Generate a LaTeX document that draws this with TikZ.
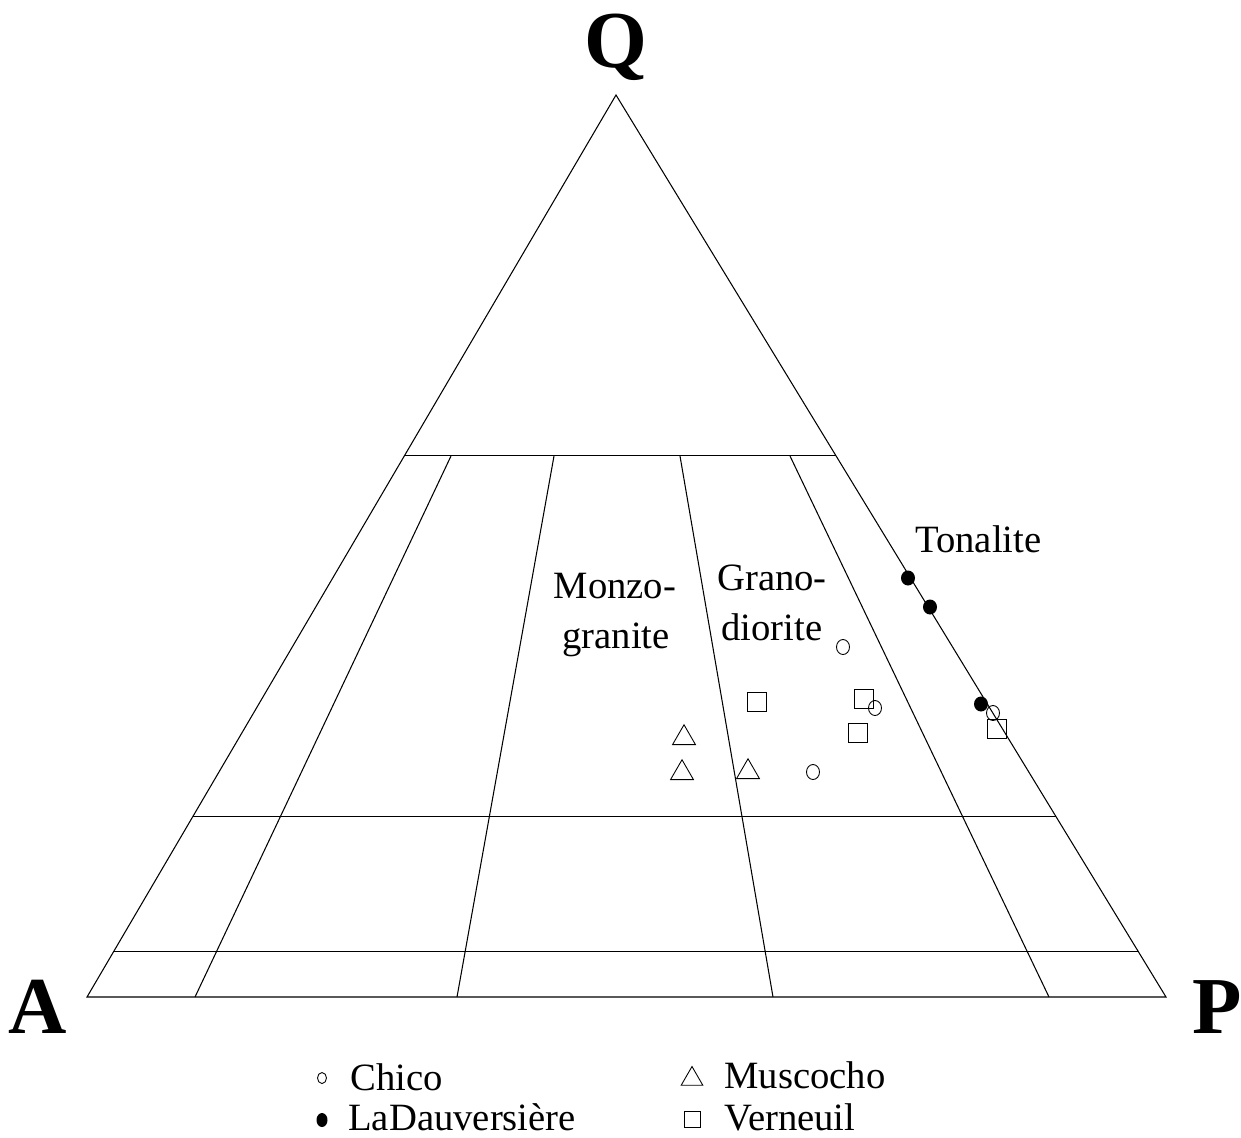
\documentclass[tikz,border=0pt]{standalone}
\usepackage{fontspec}
\setmainfont{Liberation Serif}
\usetikzlibrary{calc,shapes.geometric}

\tikzset{
  thinline/.style={line width=0.6pt},
  opendot/.style={ellipse,draw,line width=0.5pt,inner sep=0pt,minimum width=0.26cm,minimum height=0.3cm},
  fulldot/.style={ellipse,fill,inner sep=0pt,minimum width=0.28cm,minimum height=0.3cm},
  boxmark/.style={rectangle,draw,line width=0.5pt,inner sep=0pt,minimum size=0.39cm},
  trimark/.style={regular polygon,regular polygon sides=3,draw,line width=0.5pt,inner sep=0pt,minimum size=0.53cm},
  rocklabel/.style={font=\fontsize{22}{26}\selectfont,anchor=base,inner sep=0pt},
  apexlabel/.style={font=\fontsize{46}{52}\selectfont\bfseries,anchor=base,inner sep=0pt}
}

\begin{document}
\begin{tikzpicture}[x=0.02cm,y=-0.02cm]
\useasboundingbox (0,0) rectangle (1241,1137);

% Corners of the triangle
\coordinate (A) at (87,997);
\coordinate (P) at (1166,997);
\coordinate (Q) at (616,95);

% Draw the outline and the Q lines
\draw[thinline] (A) -- (P) -- (Q) -- cycle;
\foreach \q in {0.6,0.2,0.05}
  \draw[thinline] ($(A)!\q!(Q)$) -- ($(P)!\q!(Q)$);

% Draw the field boundaries
\foreach \t/\b in {451/195,554/457,680/773,790/1049}
  \draw[thinline] (\t,456) -- (\b,997);

% Corner labels
\node[apexlabel] (qlab) at (616,67) {Q};
\node[apexlabel] (alab) at (38,1033) {A};
\node[apexlabel] (plab) at (1217,1033) {P};

% Field names
\node[rocklabel,anchor=base west] (tonalite) at (915,552) {Tonalite};
\node[rocklabel] (monzo) at (615,598) {Monzo-};
\node[rocklabel] (granite) at (616,648) {granite};
\node[rocklabel] (grano) at (772,590) {Grano-};
\node[rocklabel] (diorite) at (772,640) {diorite};

% LaDauversiere
\node[fulldot] (lad1) at (908,578) {};
\node[fulldot] (lad2) at (930,607) {};
\node[fulldot] (lad3) at (981,704) {};

% Chico
\node[opendot] (chi1) at (843,647) {};
\node[opendot] (chi2) at (875,708) {};
\node[opendot] (chi3) at (993,713) {};
\node[opendot] (chi4) at (813,772) {};

% Verneuil
\node[boxmark] (ver1) at (757,702) {};
\node[boxmark] (ver2) at (864,699) {};
\node[boxmark] (ver3) at (858,733) {};
\node[boxmark] (ver4) at (997,729) {};

% Muscocho
\node[trimark] (mus1) at (684,738) {};
\node[trimark] (mus2) at (682,773) {};
\node[trimark] (mus3) at (748,772) {};

% Legend
\node[opendot,minimum width=0.18cm,minimum height=0.22cm] (keychi) at (322,1078) {};
\node[fulldot,minimum width=0.22cm,minimum height=0.28cm] (keylad) at (322,1120) {};
\node[trimark,minimum size=0.5cm] (keymus) at (692,1079) {};
\node[boxmark,minimum size=0.32cm] (keyver) at (692,1119) {};
\node[rocklabel,anchor=base west] (chico) at (350,1090) {Chico};
\node[rocklabel,anchor=base west] (ladauv) at (348,1130) {LaDauversière};
\node[rocklabel,anchor=base west] (muscocho) at (724,1088) {Muscocho};
\node[rocklabel,anchor=base west] (verneuil) at (724,1130) {Verneuil};

\end{tikzpicture}
\end{document}
